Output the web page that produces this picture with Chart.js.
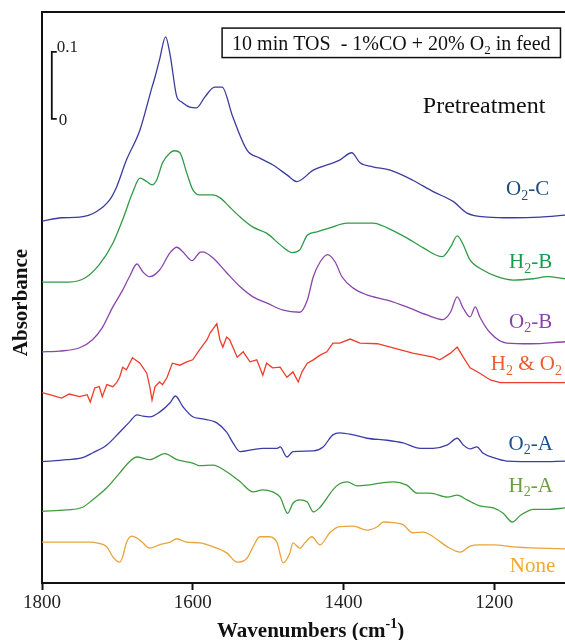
<!DOCTYPE html>
<html><head><meta charset="utf-8">
<script src="https://cdn.jsdelivr.net/npm/chart.js"></script>
<style>html,body{margin:0;padding:0;background:#fff}</style>
</head><body>
<canvas id="c" width="565" height="640"></canvas>
<script>
// ---- axis ----
const X_TICKS = [1800, 1600, 1400, 1200];
const X_MIN = 1106, X_MAX = 1800;
const Y_MIN = 0, Y_MAX = 0.852;

// ---- spectra (wavenumber, absorbance incl. stacking offset) ----
const WN_O2C = [1800,1774,1750,1728,1710,1701,1688,1670,1654,1650,1644,1636,1630,1621,1615,1604,1595,1584,1571,1561,1547,1528,1511,1494,1475,1462,1440,1405,1389,1378,1361,1338,1308,1281,1254,1236,1209,1175,1139,1106];
const ABS_O2C = [0.540,0.545,0.546,0.554,0.572,0.591,0.631,0.676,0.740,0.755,0.781,0.815,0.788,0.725,0.718,0.710,0.709,0.725,0.740,0.740,0.696,0.646,0.634,0.624,0.609,0.599,0.616,0.631,0.642,0.627,0.621,0.616,0.601,0.584,0.569,0.552,0.546,0.545,0.546,0.549];

const WN_H2B = [1800,1764,1743,1724,1706,1693,1680,1670,1661,1654,1648,1640,1630,1624,1617,1608,1600,1591,1573,1564,1551,1537,1520,1502,1480,1468,1458,1448,1435,1418,1395,1361,1342,1316,1294,1269,1258,1249,1242,1232,1215,1196,1175,1148,1130,1106];
const ABS_H2B = [0.449,0.449,0.455,0.475,0.507,0.542,0.582,0.604,0.599,0.594,0.601,0.627,0.642,0.645,0.642,0.612,0.587,0.579,0.579,0.575,0.561,0.546,0.531,0.522,0.501,0.493,0.497,0.519,0.524,0.530,0.537,0.537,0.530,0.515,0.500,0.487,0.501,0.518,0.507,0.482,0.467,0.457,0.452,0.454,0.457,0.454];

const WN_O2B = [1800,1777,1750,1733,1720,1706,1693,1684,1674,1666,1657,1644,1630,1621,1613,1601,1591,1587,1573,1555,1537,1520,1502,1480,1458,1448,1440,1431,1421,1411,1402,1387,1369,1342,1316,1289,1268,1258,1249,1241,1232,1225,1219,1205,1183,1152,1106];
const ABS_O2B = [0.345,0.346,0.351,0.363,0.381,0.412,0.437,0.457,0.476,0.464,0.457,0.467,0.493,0.501,0.494,0.481,0.493,0.494,0.485,0.463,0.442,0.427,0.418,0.407,0.404,0.422,0.457,0.479,0.490,0.479,0.457,0.440,0.430,0.422,0.412,0.400,0.393,0.404,0.427,0.410,0.397,0.412,0.397,0.373,0.358,0.357,0.360];

const WN_H2O2 = [1800,1790,1774,1764,1750,1740,1736,1730,1724,1720,1714,1706,1701,1697,1693,1688,1680,1670,1661,1657,1654,1650,1644,1640,1634,1627,1617,1608,1600,1591,1581,1577,1568,1564,1560,1555,1551,1541,1533,1524,1515,1507,1502,1494,1484,1475,1467,1460,1455,1448,1440,1431,1422,1414,1405,1391,1378,1355,1334,1308,1281,1272,1258,1249,1241,1232,1219,1205,1192,1152,1106];
const ABS_H2O2 = [0.284,0.281,0.276,0.282,0.278,0.281,0.270,0.291,0.293,0.278,0.296,0.293,0.299,0.307,0.322,0.318,0.336,0.328,0.313,0.293,0.273,0.293,0.300,0.296,0.307,0.328,0.325,0.330,0.333,0.348,0.363,0.373,0.387,0.363,0.352,0.367,0.363,0.337,0.345,0.330,0.333,0.310,0.328,0.321,0.322,0.307,0.315,0.300,0.315,0.328,0.333,0.340,0.345,0.358,0.358,0.364,0.358,0.357,0.351,0.343,0.337,0.333,0.343,0.352,0.337,0.321,0.313,0.303,0.299,0.299,0.299];

const WN_O2A = [1800,1767,1746,1733,1714,1697,1684,1674,1666,1657,1644,1630,1623,1613,1600,1587,1568,1555,1547,1537,1520,1507,1488,1484,1475,1467,1440,1427,1414,1405,1387,1369,1342,1321,1298,1281,1262,1249,1241,1232,1223,1215,1201,1183,1139,1106];
const ABS_O2A = [0.181,0.184,0.187,0.194,0.206,0.225,0.240,0.251,0.249,0.248,0.255,0.269,0.279,0.263,0.248,0.245,0.239,0.225,0.210,0.196,0.199,0.201,0.201,0.203,0.188,0.196,0.197,0.203,0.221,0.224,0.221,0.216,0.213,0.209,0.201,0.201,0.206,0.216,0.206,0.200,0.203,0.194,0.187,0.182,0.181,0.182];

const WN_H2A = [1800,1767,1746,1733,1714,1697,1684,1674,1657,1637,1621,1600,1591,1573,1555,1537,1520,1507,1494,1484,1474,1467,1458,1448,1440,1431,1414,1405,1395,1382,1369,1351,1334,1316,1302,1285,1262,1249,1236,1219,1201,1188,1176,1165,1148,1126,1106];
const ABS_H2A = [0.107,0.109,0.113,0.124,0.142,0.164,0.181,0.188,0.184,0.193,0.184,0.179,0.175,0.176,0.166,0.151,0.136,0.139,0.136,0.128,0.104,0.119,0.124,0.121,0.106,0.113,0.139,0.148,0.151,0.145,0.146,0.149,0.151,0.146,0.134,0.134,0.128,0.131,0.124,0.115,0.112,0.104,0.091,0.101,0.110,0.110,0.112];

const WN_NONE = [1800,1733,1728,1714,1706,1697,1693,1688,1681,1670,1657,1644,1630,1621,1608,1591,1573,1555,1541,1528,1520,1511,1498,1488,1480,1471,1467,1458,1451,1442,1431,1418,1405,1387,1369,1355,1347,1334,1321,1308,1294,1281,1262,1245,1232,1219,1201,1175,1139,1106];
const ABS_NONE = [0.061,0.061,0.060,0.054,0.039,0.031,0.039,0.060,0.070,0.064,0.052,0.057,0.061,0.066,0.061,0.060,0.054,0.045,0.031,0.037,0.054,0.069,0.069,0.060,0.030,0.045,0.060,0.052,0.060,0.069,0.057,0.075,0.084,0.085,0.079,0.084,0.091,0.090,0.087,0.075,0.076,0.069,0.054,0.046,0.055,0.057,0.057,0.054,0.052,0.051];

// ---- labels ----
const SERIES_LABELS = ['O_{2}-C','H_{2}-B','O_{2}-B','H_{2} & O_{2}','O_{2}-A','H_{2}-A','None'];
const LABEL_WN  = [1127,1123,1123,1110,1122,1122,1119];
const LABEL_ABS = [0.579,0.470,0.381,0.318,0.199,0.136,0.016];
const LINE_COLORS  = ['#3b3b9e','#2f9a48','#8a45ab','#f23c2a','#3c3ca8','#3f9b3f','#e9a43c'];
const LABEL_COLORS = ['#1f4d7a','#1a9a4c','#8a45ab','#f25a32','#1f4f8c','#6a9f3c','#f2a82e'];
const TITLE_BOX_TEXT = '10 min TOS  - 1%CO + 20% O_{2} in feed';
const HEADER_TEXT = 'Pretreatment';
const X_TITLE = 'Wavenumbers (cm^{-1})';
const Y_TITLE = 'Absorbance';
const SCALE_BAR_WN = 1787, SCALE_BAR_FROM = 0.6925, SCALE_BAR_TO = 0.7925;
const SCALE_LABELS = ['0.1','0'];

const SPECTRA = [[WN_O2C,ABS_O2C],[WN_H2B,ABS_H2B],[WN_O2B,ABS_O2B],[WN_H2O2,ABS_H2O2],[WN_O2A,ABS_O2A],[WN_H2A,ABS_H2A],[WN_NONE,ABS_NONE]];

const SERIF = '"Liberation Serif", "Times New Roman", serif';
function fnt(size, weight){ return (weight||'normal') + ' ' + size + 'px ' + SERIF; }
function parts(s){ const out=[]; const re=/([_^])\{([^}]*)\}|([^_^]+)/g; let m;
  while((m=re.exec(s))!==null){ if(m[3]!==undefined) out.push({t:m[3],k:0}); else out.push({t:m[2],k:m[1]==='_'?1:2}); }
  return out; }
function drawRich(ctx, s, x, y, size, color, align, weight){
  const ps = parts(s); const ws=[]; let w=0;
  ps.forEach(p=>{ ctx.font=fnt(p.k?Math.round(size*0.65):size, weight); const m=ctx.measureText(p.t).width; ws.push(m); w+=m; });
  let cx = align==='right' ? x-w : align==='center' ? x-w/2 : x;
  ctx.fillStyle=color; ctx.textAlign='left'; ctx.textBaseline='alphabetic';
  ps.forEach((p,i)=>{ const fs=p.k?Math.round(size*0.65):size; ctx.font=fnt(fs, weight);
    const dy = p.k===1 ? size*0.22 : p.k===2 ? -size*0.42 : 0;
    ctx.fillText(p.t, cx, y+dy); cx += ws[i]; });
}

const annot = {
  id:'annot',
  afterDraw(chart){
    const {ctx, chartArea:a, scales:{x,y}} = chart;
    ctx.save();
    ctx.strokeStyle='#111'; ctx.lineWidth=2;
    ctx.beginPath(); ctx.moveTo(a.left-1, a.top); ctx.lineTo(a.right, a.top); ctx.stroke();
    // scale bar
    const bx = x.getPixelForValue(SCALE_BAR_WN);
    const b0 = y.getPixelForValue(SCALE_BAR_FROM), b1 = y.getPixelForValue(SCALE_BAR_TO);
    ctx.lineWidth=1.8;
    ctx.beginPath(); ctx.moveTo(bx+5,b1); ctx.lineTo(bx,b1); ctx.lineTo(bx,b0); ctx.lineTo(bx+5,b0); ctx.stroke();
    drawRich(ctx, SCALE_LABELS[0], bx+5, b1, 17, '#222', 'left');
    drawRich(ctx, SCALE_LABELS[1], bx+7, b0+6, 17, '#222', 'left');
    // title box
    const L = x.getPixelForValue(1561), R = x.getPixelForValue(1112);
    const T = y.getPixelForValue(0.828), B = y.getPixelForValue(0.784);
    ctx.lineWidth=1.5; ctx.strokeStyle='#111';
    ctx.strokeRect(L, T, R-L, B-T);
    drawRich(ctx, TITLE_BOX_TEXT, L+10, B-8, 20, '#111', 'left');
    drawRich(ctx, HEADER_TEXT, x.getPixelForValue(1132), y.getPixelForValue(0.701), 24, '#111', 'right');
    // series labels
    SERIES_LABELS.forEach((s,i)=>{
      drawRich(ctx, s, x.getPixelForValue(LABEL_WN[i]), y.getPixelForValue(LABEL_ABS[i]), 21, LABEL_COLORS[i], 'right');
    });
    // axis titles
    drawRich(ctx, X_TITLE, 217, 637, 21, '#111', 'left', 'bold');
    ctx.save(); ctx.translate(27, (a.top+a.bottom)/2 + 5); ctx.rotate(-Math.PI/2);
    drawRich(ctx, Y_TITLE, 0, 0, 21, '#111', 'center', 'bold');
    ctx.restore();
    ctx.restore();
  }
};

new Chart(document.getElementById('c'), {
  type:'line',
  data:{ datasets: SPECTRA.map(([wn,ab],i)=>({
    label: SERIES_LABELS[i],
    data: wn.map((w,j)=>({x:w, y:ab[j]})),
    borderColor: LINE_COLORS[i], borderWidth: 1.3, pointRadius: 0, fill:false,
    cubicInterpolationMode: i===3 ? 'default' : 'monotone', tension: i===3 ? 0 : 0.4
  }))},
  options:{
    responsive:false, animation:false, devicePixelRatio:1,
    layout:{padding:{left:42, top:12, right:0, bottom:0}},
    plugins:{legend:{display:false}, tooltip:{enabled:false}, title:{display:false}},
    scales:{
      x:{ type:'linear', reverse:true, min:X_MIN, max:X_MAX,
        afterBuildTicks(s){ s.ticks = X_TICKS.map(v=>({value:v})); },
        afterFit(s){ s.height = 57; },
        ticks:{ color:'#222', font:{family:SERIF, size:19}, padding:2, maxRotation:0, autoSkip:false, callback:v=>String(v) },
        grid:{ display:true, drawOnChartArea:false, drawTicks:true, tickLength:7, tickWidth:2, tickColor:'#111' },
        border:{ display:true, color:'#111', width:2 } },
      y:{ min:Y_MIN, max:Y_MAX, afterFit(s){ s.width = 0; },
        ticks:{display:false}, grid:{display:false, drawTicks:false},
        border:{ display:true, color:'#111', width:2 } }
    }
  },
  plugins:[annot]
});
</script>
</body></html>
